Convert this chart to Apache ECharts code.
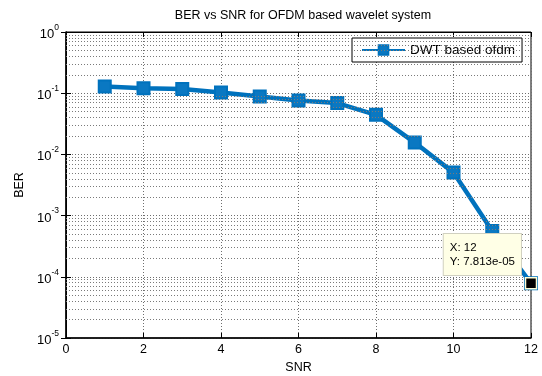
<!DOCTYPE html>
<html>
<head>
<meta charset="utf-8">
<script src="https://cdn.jsdelivr.net/npm/echarts@6/dist/echarts.min.js"></script>
<style>
html,body{margin:0;padding:0;background:#fff;}
#c{width:542px;height:376px;}
</style>
</head>
<body>
<div id="c"></div>
<script>
var titleText = 'BER vs SNR for OFDM based wavelet system';
var seriesName = 'DWT based ofdm';
var xName = 'SNR';
var yName = 'BER';
var snr = [1, 2, 3, 4, 5, 6, 7, 8, 9, 10, 11, 12];
var ber = [0.129, 0.121, 0.117, 0.1026, 0.0883, 0.076, 0.0689, 0.0443, 0.0156, 0.00504, 0.00056, 7.813e-5];
var xTicks = [0, 2, 4, 6, 8, 10, 12];
var yDecades = [-5, -4, -3, -2, -1, 0];
var minorMultipliers = [2, 3, 4, 5, 6, 7, 8, 9];
var tipIndex = 11;

var FONT = 'Liberation Sans, Arial, sans-serif';

function fmtExp(v) {
  var s = v.toExponential(3);
  var parts = s.split('e');
  var sign = parts[1].charAt(0) === '-' ? '-' : '+';
  var e = parts[1].replace(/[+-]/, '');
  if (e.length < 2) e = '0' + e;
  return parts[0] + 'e' + sign + e;
}

var data = snr.map(function (x, i) { return [x, ber[i]]; });

var minorLines = [];
for (var d = 0; d < yDecades.length - 1; d++) {
  for (var m = 0; m < minorMultipliers.length; m++) {
    minorLines.push({ yAxis: minorMultipliers[m] * Math.pow(10, yDecades[d]) });
  }
}

var gridColor = '#6e6e6e';
var minorColor = '#7a7a7a';

var yAxisBase = {
  type: 'log',
  logBase: 10,
  min: Math.pow(10, yDecades[0]),
  max: Math.pow(10, yDecades[yDecades.length - 1]),
  axisLine: { show: true, lineStyle: { color: '#000', width: 1 } },
  axisTick: { show: true, inside: true, length: 5, lineStyle: { color: '#000' } },
  minorTick: { show: false },
  splitLine: { show: true, lineStyle: { color: gridColor, type: [1, 2], width: 1 } },
  minorSplitLine: { show: false }
};

var option = {
  backgroundColor: '#fff',
  animation: false,
  textStyle: { fontFamily: FONT },
  title: {
    text: titleText,
    left: 298, top: 4, textAlign: 'center',
    textStyle: { fontSize: 12.5, fontWeight: 'normal', color: '#000', fontFamily: FONT }
  },
  legend: {
    left: 352, top: 38,
    padding: [5, 7, 5, 9],
    backgroundColor: '#fff',
    borderColor: '#000',
    borderWidth: 1,
    itemWidth: 43, itemHeight: 12,
    itemGap: 5,
    textStyle: { fontSize: 13.5, color: '#000', fontFamily: FONT },
    data: [seriesName]
  },
  grid: {
    left: 66, right: 11, top: 32, bottom: 38,
    outerBoundsMode: 'none',
    containLabel: false,
    show: true, borderColor: '#000', borderWidth: 1
  },
  xAxis: [{
    type: 'value', min: xTicks[0], max: xTicks[xTicks.length - 1], interval: 2,
    name: xName, nameLocation: 'middle', nameGap: 23,
    nameTextStyle: { fontSize: 12.5, color: '#000', fontFamily: FONT },
    axisLine: { show: true, lineStyle: { color: '#000', width: 1.5 } },
    axisTick: { show: true, inside: true, length: 5, lineStyle: { color: '#000' } },
    axisLabel: { fontSize: 12.5, color: '#000', margin: 5, fontFamily: FONT },
    splitLine: { show: true, lineStyle: { color: gridColor, type: [1, 2], width: 1 } }
  }, {
    type: 'value', position: 'top', min: xTicks[0], max: xTicks[xTicks.length - 1], interval: 2,
    axisLine: { show: true, lineStyle: { color: '#000' } },
    axisTick: { show: true, inside: true, length: 5, lineStyle: { color: '#000' } },
    axisLabel: { show: false },
    splitLine: { show: false }
  }],
  yAxis: [Object.assign({}, yAxisBase, {
    name: yName, nameLocation: 'middle', nameGap: 39,
    nameTextStyle: { fontSize: 12.5, color: '#000', fontFamily: FONT },
    axisLine: { show: true, lineStyle: { color: '#000', width: 1.5 } },
    axisLabel: {
      margin: 7,
      formatter: function (v) {
        var e = Math.round(Math.log10(v));
        return '{b|10}{s|' + e + '}';
      },
      rich: {
        b: { fontSize: 13, color: '#000', fontFamily: FONT, lineHeight: 22, verticalAlign: 'bottom', padding: [0, 0, 2, 0] },
        s: { fontSize: 8.5, color: '#000', fontFamily: FONT, lineHeight: 22, verticalAlign: 'top', padding: [2, 0, 0, 0] }
      }
    }
  }), Object.assign({}, yAxisBase, {
    position: 'right',
    axisLabel: { show: false },
    splitLine: { show: false }
  })],
  series: [{
    name: 'minor-grid',
    type: 'line',
    xAxisIndex: 0, yAxisIndex: 0,
    data: [],
    silent: true,
    z: 1,
    markLine: {
      silent: true,
      precision: 12,
      symbol: ['none', 'none'],
      animation: false,
      label: { show: false },
      emphasis: { disabled: true },
      lineStyle: { color: minorColor, type: [1, 2], width: 1 },
      data: minorLines
    }
  }, {
    name: seriesName,
    type: 'line',
    xAxisIndex: 0, yAxisIndex: 0,
    data: data,
    symbol: 'rect',
    symbolSize: 12,
    showAllSymbol: true,
    lineStyle: { color: '#0072BD', width: 4.5 },
    itemStyle: { color: '#0a78c2', borderColor: '#0072BD', borderWidth: 2 },
    emphasis: { disabled: true },
    z: 3,
    markPoint: {
      silent: true,
      z: 10,
      animation: false,
      data: [{
        coord: [snr[tipIndex], ber[tipIndex]],
        symbol: 'rect',
        symbolSize: 11,
        itemStyle: { color: '#000', borderColor: '#ffffd8', borderWidth: 1.5 },
        label: {
          show: true,
          position: [-81, -43],
          align: 'left', verticalAlign: 'top',
          formatter: 'X: ' + snr[tipIndex] + '\nY: ' + fmtExp(ber[tipIndex]),
          fontSize: 11.5, color: '#000', fontFamily: FONT,
          lineHeight: 14,
          backgroundColor: '#ffffe6',
          borderColor: '#d0d0c0', borderWidth: 1,
          padding: [7, 6, 6, 6]
        }
      }]
    }
  }]
};

var chart = echarts.init(document.getElementById('c'), null, { renderer: 'canvas' });
chart.setOption(option);
</script>
</body>
</html>
